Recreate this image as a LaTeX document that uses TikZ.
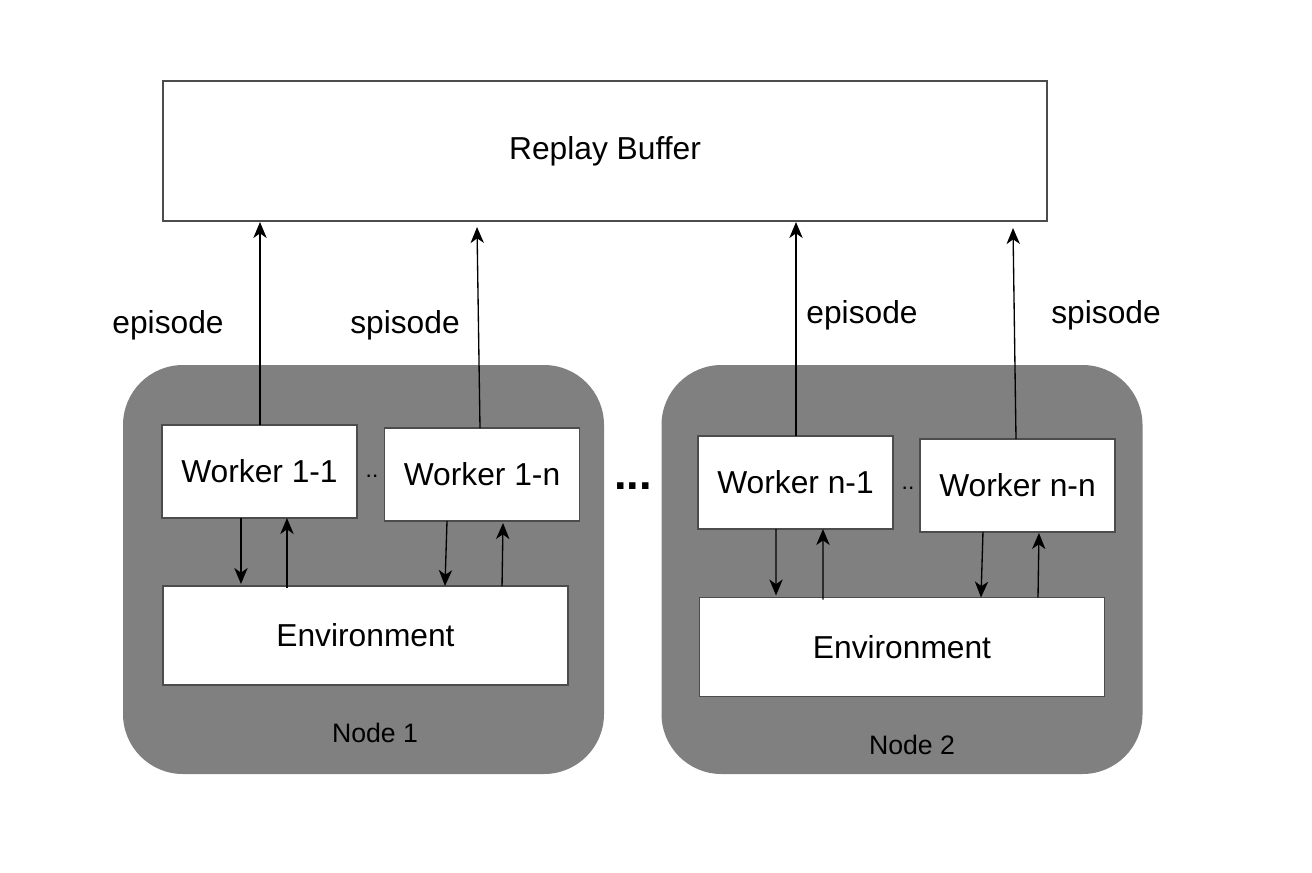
\documentclass[tikz,border=0pt]{standalone}
\usepackage{fontspec}
\setmainfont{Liberation Sans}
\usepackage{tikz}
\usetikzlibrary{positioning,arrows.meta}

\tikzset{
	box/.style={shape=rectangle,draw=black!70,fill=white,line width=0.8pt,inner sep=0pt,outer sep=0pt,font=\fontsize{23.8}{28}\selectfont},
	workerbox/.style={box,minimum width=146.25pt,minimum height=69.75pt},
	envbox/.style={box,minimum width=303.75pt,minimum height=74.25pt},
	hostbox/.style={shape=rectangle,rounded corners=45pt,fill=black!50,draw=none,minimum width=360.75pt,minimum height=306.75pt,inner sep=0pt},
	lbl/.style={font=\fontsize{23.8}{28}\selectfont},
	arr/.style={-{Stealth[length=12pt,width=10pt,inset=3.5pt]}},
}

\begin{document}
\begin{tikzpicture}[x=0.75pt,y=-0.75pt,line width=1pt]
	\useasboundingbox (0,0) rectangle (1312,872);
	% replay buffer
	\node[box,minimum width=663pt,minimum height=105pt] (RB) at (605,151) {Replay Buffer};
	% machines
	\node[hostbox] (H1) at (363.5,569.5) {};
	\node[hostbox] (H2) at (902,569.5) {};
	\node[font=\fontsize{20}{24}\selectfont] (L1) at (375,733) {Node 1};
	\node[font=\fontsize{20}{24}\selectfont] (L2) at (912,745) {Node 2};
	% workers
	\node[workerbox] (W11) at (259.5,471.5) {Worker 1-1};
	\node[workerbox] (W1n) at (482,474.5) {Worker 1-n};
	\node[workerbox] (Wn1) at (795.5,482.5) {Worker n-1};
	\node[workerbox] (Wnn) at (1017.5,485.5) {Worker n-n};
	\node[envbox] (E1) at (365.5,635.5) {Environment};
	\node[envbox] (E2) at (902,647) {Environment};
	\node[font=\fontsize{17}{20}\selectfont] (D1) at (372,476) {..};
	\node[font=\fontsize{17}{20}\selectfont] (D2) at (908,488) {..};
	\node[font=\bfseries\fontsize{34}{38}\selectfont] (DD) at (633,486) {...};
	% episodes up to the buffer
	\coordinate (T11) at (260,222);
	\coordinate (T1n) at (477,227);
	\coordinate (Tn1) at (796,222);
	\coordinate (Tnn) at (1013,228);
	\draw[arr] ([xshift=0.375pt]W11.north) -- (T11);
	\draw[arr] ([xshift=-1.5pt]W1n.north) -- (T1n);
	\draw[arr] ([xshift=0.375pt]Wn1.north) -- (Tn1);
	\draw[arr] ([xshift=-1.125pt]Wnn.north) -- (Tnn);
	\node[lbl] (P1) at (168,325) {episode};
	\node[lbl] (P2) at (405,325) {spisode};
	\node[lbl] (P3) at (862,315) {episode};
	\node[lbl] (P4) at (1106,315) {spisode};
	% worker <-> environment
	\draw[arr] ([xshift=-13.9pt]W11.south) -- ([xshift=-93.4pt,yshift=1.5pt]E1.north);
	\draw[arr] ([xshift=-58.9pt,yshift=-1.5pt]E1.north) -- ([xshift=20.6pt]W11.south) ;
	\draw[arr] ([xshift=-26.25pt]W1n.south) -- ([xshift=59.6pt]E1.north);
	\draw[arr] ([xshift=102.4pt,yshift=0pt]E1.north) -- ([xshift=15.75pt,yshift=-1.5pt]W1n.south);
	\draw[arr] ([xshift=-14.6pt]Wn1.south) -- ([xshift=-94.5pt,yshift=1.5pt]E2.north);
	\draw[arr] ([xshift=-59.25pt,yshift=-1.5pt]E2.north) -- ([xshift=20.6pt]Wn1.south);
	\draw[arr] ([xshift=-25.9pt]Wnn.south) -- ([xshift=59.25pt]E2.north);
	\draw[arr] ([xshift=102pt]E2.north) -- ([xshift=16.1pt,yshift=-0.75pt]Wnn.south);
\end{tikzpicture}
\end{document}
